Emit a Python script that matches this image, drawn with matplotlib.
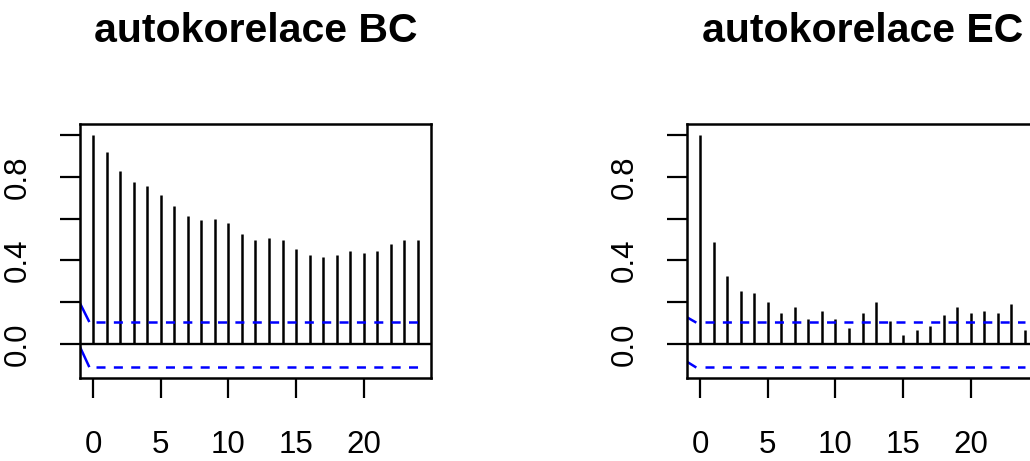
import matplotlib
matplotlib.use("Agg")
import matplotlib.pyplot as plt
import numpy as np

plt.rcParams['font.family'] = ['Liberation Sans', 'DejaVu Sans']
plt.rcParams['lines.scale_dashes'] = False

# Autocorrelation values, lags 0..24
lags = np.arange(25)
acf_bc = [1.000, 0.919, 0.826, 0.775, 0.754, 0.713, 0.662, 0.611, 0.592, 0.600,
          0.579, 0.528, 0.498, 0.509, 0.498, 0.456, 0.426, 0.416, 0.426, 0.447,
          0.437, 0.447, 0.477, 0.498, 0.498]
acf_ec = [1.000, 0.486, 0.324, 0.252, 0.242, 0.199, 0.150, 0.179, 0.118, 0.159,
          0.118, 0.077, 0.150, 0.199, 0.108, 0.045, 0.067, 0.086, 0.139, 0.179,
          0.150, 0.159, 0.150, 0.190, 0.067]

titles = ["autokorelace BC", "autokorelace EC"]

# Confidence bounds (upper, lower) and the short lead-in before lag 0
ci_bounds = [(0.105, -0.111), (0.105, -0.111)]
ci_lead_lag = [-0.97, -0.27]
ci_lead_bc = [(0.196, 0.105), (-0.013, -0.111)]
ci_lead_ec = [(0.128, 0.102), (-0.085, -0.113)]
ci_dash_start = [0.25, 0.35]

yticks = [0.0, 0.2, 0.4, 0.6, 0.8, 1.0]
ytick_labels = ["0.0", "", "0.4", "", "0.8", ""]
xticks = [0, 5, 10, 15, 20]

W, H = 1030, 461
fig = plt.figure(figsize=(W / 100, H / 100), dpi=100)

panels = [(80, acf_bc, ci_lead_bc, 0), (687, acf_ec, ci_lead_ec, 1)]
box_w, box_top, box_bot = 351, 124, 378

for left, acf, lead, i in panels:
    ax = fig.add_axes([left / W, (H - box_bot) / H, box_w / W, (box_bot - box_top) / H])
    ax.vlines(lags, 0, acf, color='black', lw=1.8)
    ax.axhline(0, color='black', lw=1.7)
    up, lo = ci_bounds[i]
    for (y0, y1), level in zip(lead, (up, lo)):
        ax.plot(ci_lead_lag, [y0, y1], color='blue', lw=1.8, solid_capstyle='butt')
        ax.plot([ci_dash_start[i], 24], [level, level], color='blue', lw=1.8,
                dashes=(6.5, 6.0), dash_capstyle='butt')
    ax.set_xlim(-0.96, 24.96)
    ax.set_ylim(-0.163, 1.053)
    ax.set_xticks(xticks)
    ax.set_xticklabels([str(t) for t in xticks])
    ax.set_yticks(yticks)
    ax.set_yticklabels(ytick_labels, rotation=90, va='center')
    ax.tick_params(axis='both', direction='out', length=14.4, width=1.6,
                   labelsize=22.5)
    ax.tick_params(axis='x', pad=23.0)
    ax.tick_params(axis='y', pad=19.4)
    for s in ax.spines.values():
        s.set_linewidth(1.8)
    cx = (left + box_w / 2) / W
    fig.text(cx, 1 - 31 / H, titles[i], ha='center', va='center',
             fontsize=29.5, fontweight='bold')

fig.savefig("out.png", dpi=100)
